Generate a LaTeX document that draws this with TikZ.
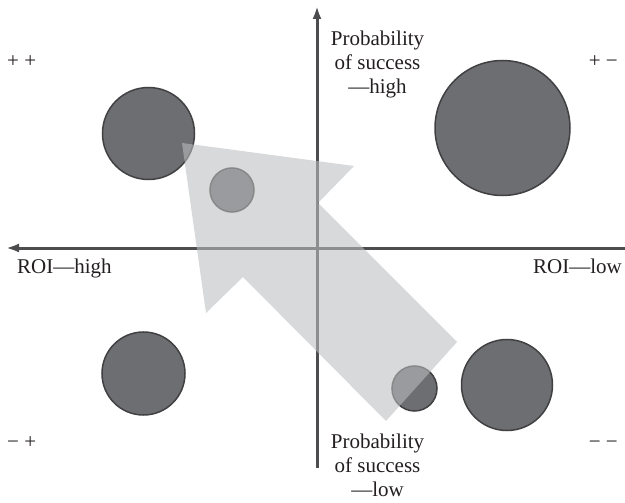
\documentclass[tikz,border=0pt]{standalone}
\usepackage{fontspec}
\setmainfont{Liberation Serif}
\usetikzlibrary{arrows.meta}
\definecolor{bubfill}{RGB}{109,110,113}
\definecolor{bubline}{RGB}{65,64,66}
\definecolor{axiscol}{RGB}{77,77,79}
\definecolor{bigarrow}{RGB}{188,189,191}
\definecolor{txt}{RGB}{35,31,32}
\tikzset{
  bub/.style={circle, draw=bubline, line width=1.5pt, fill=bubfill, inner sep=0pt},
  axisline/.style={draw=axiscol, line width=3pt, -{Latex[length=13pt,width=9pt]}},
  lbl/.style={font=\fontsize{21}{24}\selectfont, text=txt, inner sep=0pt},
  bigarrowstyle/.style={fill=bigarrow, fill opacity=0.58, draw=none}
}
\begin{document}
\begin{tikzpicture}[x=1pt,y=-1pt]
\useasboundingbox (0,0) rectangle (625,503);
% axes
\coordinate (vb) at (317,468);
\coordinate (vt) at (317,6);
\coordinate (hr) at (625,248);
\coordinate (hl) at (6,248);
\draw[axisline] (vb) -- (vt);
\draw[axisline] (hr) -- (hl);
% bubbles
\node[bub, minimum size=92pt] (tl) at (148.5,133.5) {};
\node[bub, minimum size=135pt] (tr) at (502.5,128) {};
\node[bub, minimum size=83pt] (bl) at (143.5,373.5) {};
\node[bub, minimum size=91pt] (br) at (507,385) {};
\node[bub, minimum size=44pt] (s1) at (232,190) {};
\node[bub, minimum size=45pt] (s2) at (414.5,388.5) {};
% big arrow
\fill[bigarrowstyle] (182,143) -- (354,166) -- (318,203) -- (457,342)
  -- (386,421) -- (243,277) -- (206,313) -- cycle;
% labels
\node[lbl, align=center, anchor=north] (ph) at (377.5,30.5) {Probability\\of success\\—high};
\node[lbl, align=center, anchor=north] (pl) at (377.5,433.5) {Probability\\of success\\—low};
\node[lbl, anchor=base west] (rh) at (17,273) {ROI—high};
\node[lbl, anchor=base east] (rl) at (622,273) {ROI—low};
\node[lbl, anchor=base west] (q1) at (7,68) {+ +};
\node[lbl, anchor=base east] (q2) at (618,68) {+ −};
\node[lbl, anchor=base west] (q3) at (7,448) {− +};
\node[lbl, anchor=base east] (q4) at (618,448) {− −};
\end{tikzpicture}
\end{document}
